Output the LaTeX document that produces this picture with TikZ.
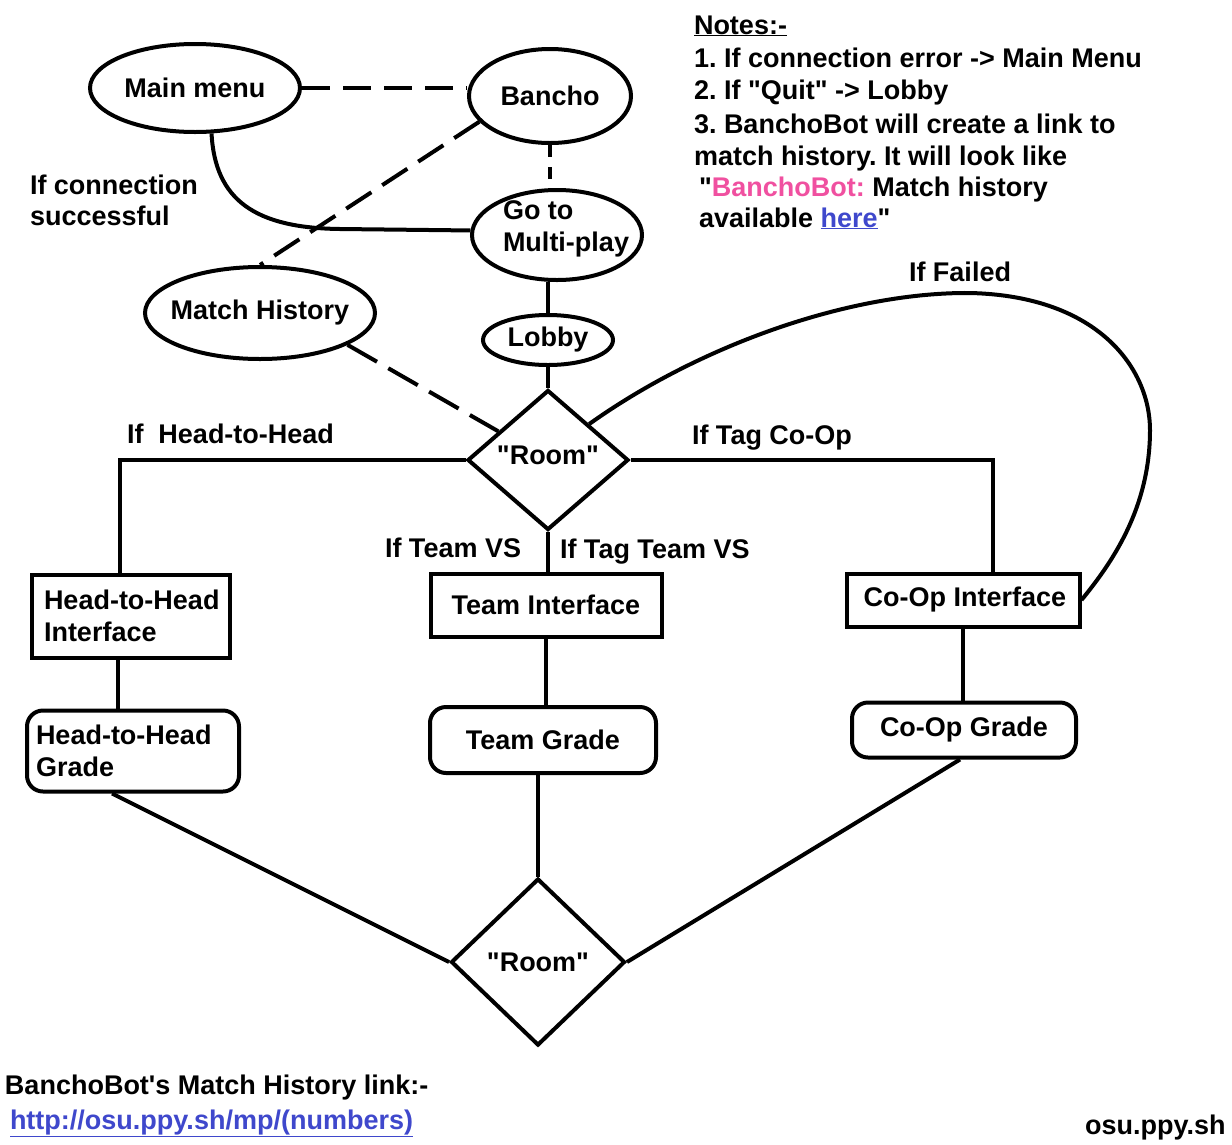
\documentclass[tikz,border=0pt]{standalone}
\usepackage{fontspec}
\setmainfont{Liberation Sans}[Ligatures=TeXOff]
\usetikzlibrary{shapes.geometric,calc}
\definecolor{bbpink}{HTML}{F050A0}
\definecolor{linkblue}{HTML}{3F48CC}
\frenchspacing
\begin{document}
\begin{tikzpicture}[x=1pt,y=-1pt,line width=4pt,
  font=\fontsize{27}{32}\selectfont\bfseries,
  ell/.style={ellipse,draw,inner sep=0pt},
  dia/.style={diamond,draw,inner sep=0pt,aspect=1},
  box/.style={rectangle,draw,inner sep=0pt},
  rbox/.style={rectangle,draw,rounded corners=16pt,inner sep=0pt},
  txt/.style={anchor=base west,inner sep=0pt}]
\useasboundingbox (0,0) rectangle (1232,1144);
\fill[white] (0,0) rectangle (1232,1144);

% ellipses
\node[ell,minimum width=210pt,minimum height=88pt,label=center:Main menu] (mm) at (195,88) {};
\node[ell,minimum width=162pt,minimum height=94pt,label=center:Bancho] (ban) at (550,96) {};
\node[ell,minimum width=170pt,minimum height=90pt,
  label={[align=left,xshift=9pt,yshift=6pt]center:Go to\\Multi-play}] (goto) at (557,235) {};
\node[ell,minimum width=230pt,minimum height=92pt,label=center:Match History] (mh) at (260,313) {};
\node[ell,minimum width=130pt,minimum height=50pt,label=center:Lobby] (lobby) at (548,340) {};

% diamonds
\node[dia,minimum width=161pt,minimum height=140pt,label={[yshift=5pt]center:"Room"}] (r1) at (548,460) {};
\node[dia,minimum width=174pt,minimum height=167pt,label={center:"Room"}] (r2) at (538,962) {};

% boxes
\node[box,text width=180pt,inner xsep=9pt,minimum height=83pt,align=left] (hhi) at (131,616) {\hspace*{3pt}Head-to-Head\\\hspace*{3pt}Interface};
\node[box,minimum width=231pt,minimum height=63pt] (ti) at (546,605) {Team Interface};
\node[box,minimum width=233pt,minimum height=53pt] (ci) at (963,600) {\hspace*{4pt}Co-Op Interface};
\node[rbox,text width=194pt,inner xsep=9pt,minimum height=81pt,align=left] (hhg) at (133,751) {Head-to-Head\\Grade};
\node[rbox,minimum width=226pt,minimum height=66pt] (tg) at (543,740) {Team Grade};
\node[rbox,minimum width=224pt,minimum height=55pt] (cg) at (964,730) {Co-Op Grade};

% connectors
\draw[dash pattern=on 28pt off 13pt] (mm.east) -- (ban.west |- mm.east);
\draw[dash pattern=on 12pt off 10pt] (ban.south) -- (ban.south |- goto.north);
\draw[dash pattern=on 30pt off 13pt] (ban.200) -- (mh.north);
\draw[dash pattern=on 34pt off 13pt] (mh.-20) -- (r1.150);
\draw (mm.-70) .. controls (215,200) and (255,228) .. (340,229) -- (goto.177);
\draw (lobby.north |- goto.south) -- (lobby.north);
\draw (lobby.south) -- (lobby.south |- r1.north);
\draw (r1.west) -| ($(hhi.north)+(-11,0)$);
\draw (r1.east) -| ($(ci.north)+(30,0)$);
\draw (r1.south) -- (r1.south |- ti.north);
\draw (r1.north east) .. controls (700,345) and (850,292) .. (970,293)
  .. controls (1100,296) and (1150,370) .. (1150,430)
  .. controls (1150,510) and (1110,565) .. (ci.east);
\draw ($(hhi.south)+(-13,0)$) -- ($(hhg.north)+(-15,0)$);
\draw (ti.south) -- (ti.south |- tg.north);
\draw (ci.south) -- (ci.south |- cg.north);
\draw ($(hhg.south)+(-21,0)$) -- (r2.west);
\draw (r2.north |- tg.south) -- (r2.north);
\draw ($(cg.south)+(-4,0)$) -- (r2.east);

% labels
\node[txt] (l1a) at (28,194) {If connection};
\node[txt] (l1b) at (28,225) {successful};
\node[txt] (l2) at (125,443) {If\ \ Head-to-Head};
\node[txt] (l3) at (690,444) {If Tag Co-Op};
\node[txt] (l4) at (383,557) {If Team VS};
\node[txt] (l5) at (558,558) {If Tag Team VS};
\node[txt] (l6) at (907,281) {If Failed};

% notes
\node[txt] (n0) at (692,34) {\underline{Notes:-}};
\node[txt] (n1) at (692,67) {1. If connection error -> Main Menu};
\node[txt] (n2) at (692,99) {2. If "Quit" -> Lobby};
\node[txt] (n3) at (692,133) {3. BanchoBot will create a link to};
\node[txt] (n4) at (692,165) {match history. It will look like};
\node[txt] (n5) at (697,196) {"{\color{bbpink}BanchoBot:} Match history};
\node[txt] (n6) at (697,227) {available {\color{linkblue}\underline{here}}"};

% bottom
\node[txt] (b1) at (3,1094) {BanchoBot's Match History link:-};
\node[txt] (b2) at (8,1129) {\color{linkblue}\underline{http://osu.ppy.sh/mp/(numbers)}};
\node[txt] (b3) at (1083,1134) {osu.ppy.sh};
\end{tikzpicture}
\end{document}
